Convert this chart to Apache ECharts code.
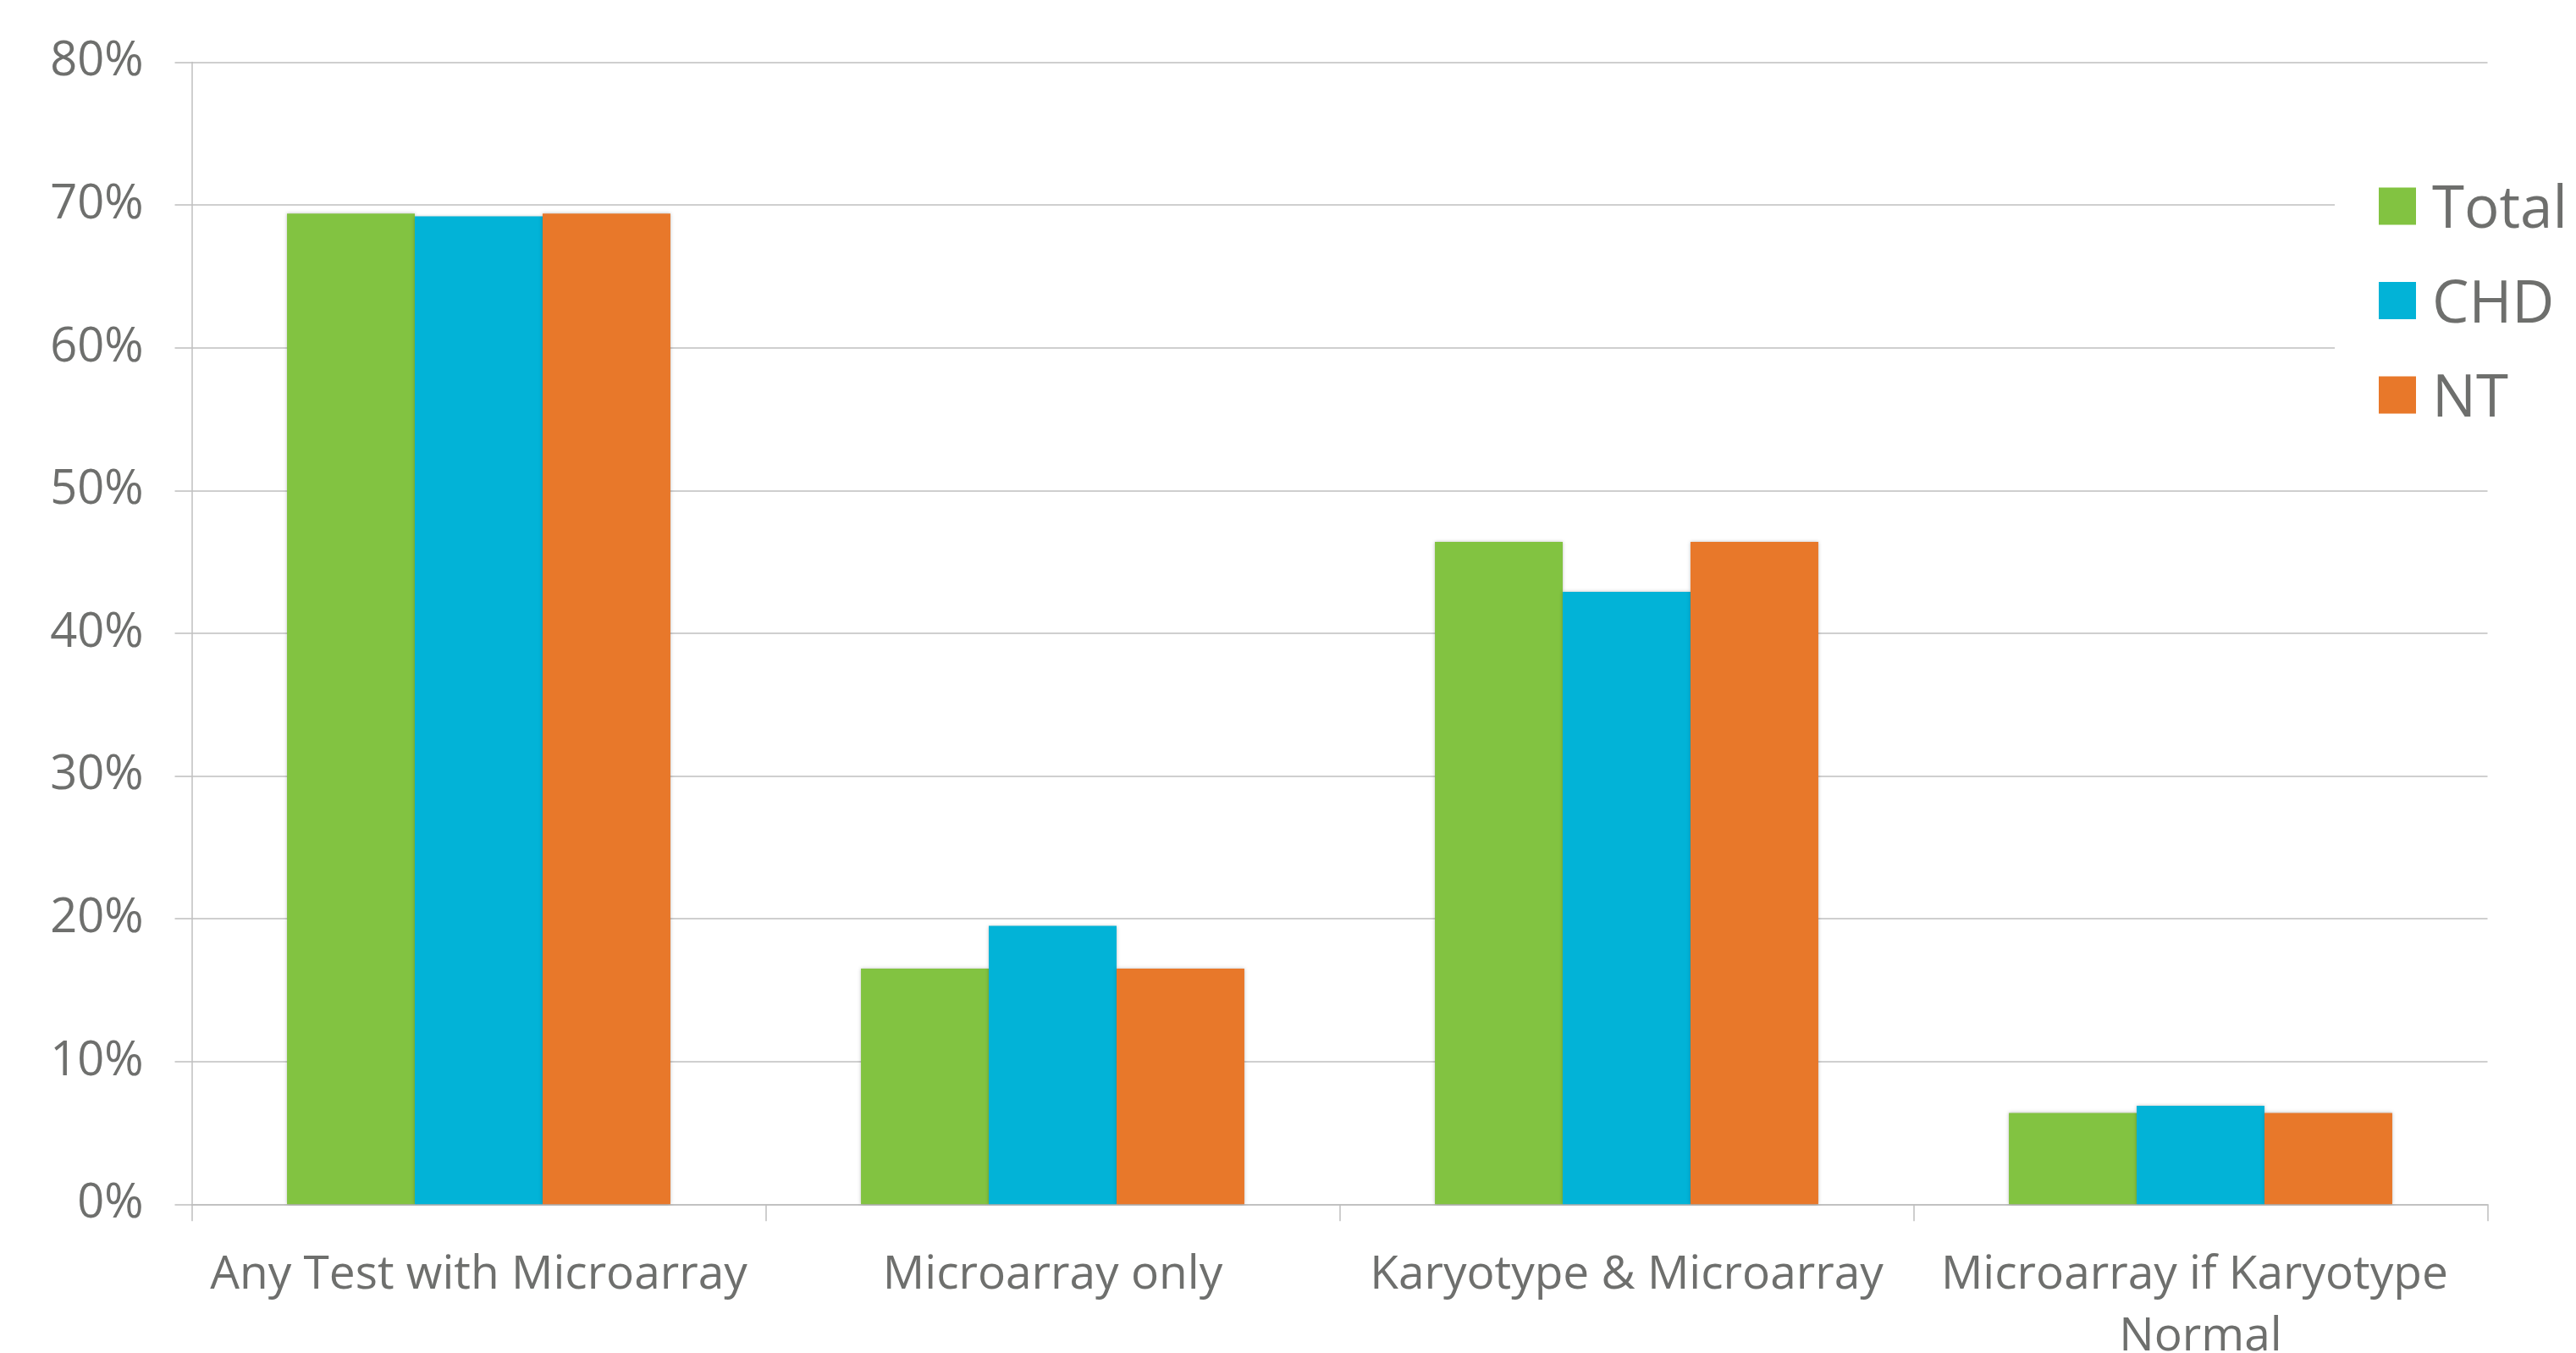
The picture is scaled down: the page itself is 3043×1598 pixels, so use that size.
<!DOCTYPE html>
<html>
<head>
<meta charset="utf-8">
<script src="https://cdn.jsdelivr.net/npm/echarts@6/dist/echarts.min.js"></script>
<style>
html,body{margin:0;padding:0;background:#fff;}
#chart{width:3043px;height:1598px;}
</style>
</head>
<body>
<div id="chart"></div>
<script>
// categories and values (percent)
var categories = ['Any Test with Microarray', 'Microarray only', 'Karyotype & Microarray', 'Microarray if Karyotype Normal'];
var seriesNames = ['Total', 'CHD', 'NT'];
var totalValues = [69.4, 16.5, 46.4, 6.4];
var chdValues = [69.2, 19.5, 42.9, 6.9];
var ntValues = [69.4, 16.5, 46.4, 6.4];
var yTicks = [0, 10, 20, 30, 40, 50, 60, 70, 80];

var colors = ['#82c341', '#02b3d7', '#e8782a'];
var textColor = '#6e6f6d';
var lineColor = '#bfbfbf';
var fontName = '"Open Sans", "Noto Sans", sans-serif';

var myChart = echarts.init(document.getElementById('chart'));

function makeSeries(name, data, color)
{
	return {
		name: name,
		type: 'bar',
		data: data,
		barGap: '0%',
		barCategoryGap: '33.2%',
		itemStyle: {color: color, shadowBlur: 4, shadowColor: 'rgba(0,0,0,0.25)'}
	};
}

var option = {
	backgroundColor: '#fff',
	animation: false,
	color: colors,
	textStyle: {fontFamily: fontName},
	//v6 默认会把标签挤进容器里，这里关掉
	grid: {left: 226.5, right: 104.5, top: 73.5, bottom: 175.7, containLabel: false, outerBoundsMode: 'none'},
	legend: {
		data: seriesNames,
		orient: 'vertical',
		left: 2758,
		top: 183,
		padding: [20, 10, 20, 52],
		backgroundColor: '#fff',
		itemWidth: 44,
		itemHeight: 44,
		itemGap: 30.5,
		icon: 'rect',
		//文字比色块略低，用rich把文字往下压一点
		formatter: '{n|{name}}',
		textStyle: {
			color: textColor, fontSize: 69, fontFamily: fontName, padding: [0, 0, 0, 14],
			rich: {n: {color: textColor, fontSize: 69, fontFamily: fontName, lineHeight: 68, padding: [12, 0, 0, 0]}}
		}
	},
	xAxis: {
		type: 'category',
		data: categories,
		axisLine: {show: true, lineStyle: {color: lineColor, width: 1.5}},
		axisTick: {show: true, length: 20, lineStyle: {color: lineColor, width: 1.5}},
		axisLabel: {
			color: textColor,
			fontSize: 55,
			lineHeight: 73,
			fontFamily: fontName,
			margin: 48,
			interval: 0,
			width: 672,
			overflow: 'break'
		}
	},
	yAxis: {
		type: 'value',
		min: yTicks[0],
		max: yTicks[yTicks.length - 1],
		interval: 10,
		axisLine: {show: true, lineStyle: {color: lineColor, width: 1.5}},
		axisTick: {show: true, length: 20, lineStyle: {color: lineColor, width: 1.5}},
		splitLine: {show: true, lineStyle: {color: lineColor, width: 1.5}},
		axisLabel: {color: textColor, fontSize: 56, fontFamily: fontName, margin: 57, formatter: '{value}%'}
	},
	series: [
		makeSeries(seriesNames[0], totalValues, colors[0]),
		makeSeries(seriesNames[1], chdValues, colors[1]),
		makeSeries(seriesNames[2], ntValues, colors[2])
	]
};
myChart.setOption(option);
</script>
</body>
</html>
